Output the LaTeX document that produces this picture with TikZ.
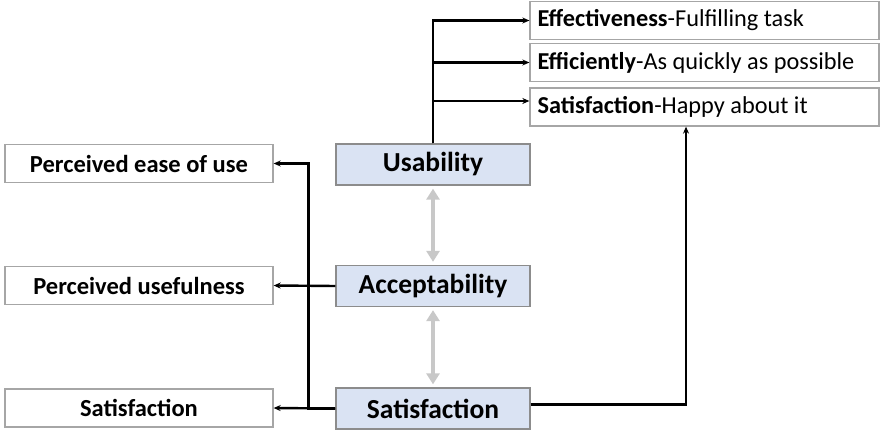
\documentclass[tikz,border=0pt]{standalone}
\usepackage{fontspec}
\setmainfont{Carlito}
\usetikzlibrary{arrows.meta}
\definecolor{boxblue}{HTML}{DAE3F3}
\definecolor{blueedge}{HTML}{8C8C8C}
\definecolor{whiteedge}{HTML}{A6A6A6}
\definecolor{linkgray}{HTML}{C8C8C8}
\tikzset{
  corebox/.style={draw=blueedge, fill=boxblue, line width=1.3pt,
    minimum width=194pt, minimum height=41pt, inner sep=0pt,
    font=\fontsize{27.5}{32}\selectfont\bfseries},
  sidebox/.style={draw=whiteedge, fill=white, line width=1.3pt,
    minimum width=268pt, minimum height=38pt, inner sep=0pt,
    font=\fontsize{24.5}{29}\selectfont\bfseries},
  notebox/.style={draw=whiteedge, fill=white, line width=1.3pt,
    text width=334pt, align=flush left, inner xsep=7.5pt, inner ysep=0pt,
    minimum height=38pt, font=\fontsize{24.3}{29}\selectfont},
  arr/.style={line width=2.4pt, -{Stealth[length=7pt,width=6pt]}},
  twoway/.style={draw=linkgray, line width=3.5pt,
    {Triangle[length=11pt,width=13pt]}-{Triangle[length=11pt,width=13pt]}}
}
\begin{document}
\begin{tikzpicture}[x=1pt,y=1pt]
\useasboundingbox (0,0) rectangle (880,431);

% central concepts
\node[corebox] (usa) at (433,266.5) {Usability};
\node[corebox] (acc) at (433,145) {Acceptability};
\node[corebox] (sat) at (433,22.5) {Satisfaction};

% components of usability
\node[notebox] (eff)  at (704.5,410.5) {\textbf{Effectiveness}-Fulfilling task};
\node[notebox] (effi) at (704.5,368.5) {\textbf{Efficiently}-As quickly as possible};
\node[notebox] (happ) at (704.5,324)   {\textbf{Satisfaction}-Happy about it};

% components of acceptability
\node[sidebox] (peou) at (139,267.5) {Perceived ease of use};
\node[sidebox] (pu)   at (139,145.5) {Perceived usefulness};
\node[sidebox] (lsat) at (139,23)    {Satisfaction};

% links between the three concepts
\draw[twoway] ([yshift=-3pt]usa.south) -- ([yshift=3pt]acc.north);
\draw[twoway] ([yshift=-3pt]acc.south) -- ([yshift=3pt]sat.north);

% usability branches
\draw[arr] (usa.north) |- (eff.west);
\draw[arr] (usa.north) |- (effi.west);
\draw[arr] (usa.north) |- ([yshift=6pt]happ.west);

% satisfaction feeds the happiness criterion
\draw[arr] ([yshift=4pt]sat.east) -| ([xshift=-18.5pt]happ.south);

% acceptability branches
\draw[arr] (acc.west) -- (pu.east);
\draw[arr] (sat.west) -- (lsat.east);
\draw[arr] (sat.west) -- ++(-27,0) |- (peou.east);
\end{tikzpicture}
\end{document}
